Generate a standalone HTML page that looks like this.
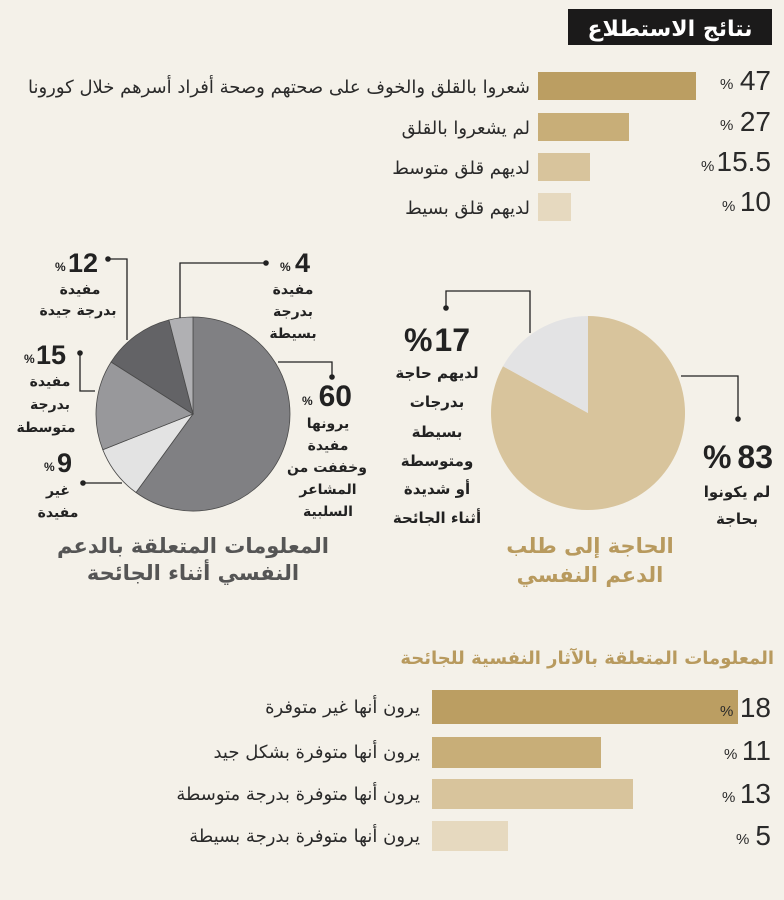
<!DOCTYPE html>
<html><head><meta charset="utf-8"><style>
html,body{margin:0;padding:0;background:#f4f1e9;}
svg{display:block;}
text{font-family:"DejaVu Sans","Liberation Sans",sans-serif;}
.n{font-family:"Liberation Sans",sans-serif;}
</style></head><body>
<svg width="784" height="900" viewBox="0 0 784 900" xmlns="http://www.w3.org/2000/svg">
<rect width="784" height="900" fill="#f4f1e9"/>
<rect x="568" y="9" width="204" height="36" fill="#1b1a1a"/>
<text x="670" y="36" fill="#fff" font-size="22" font-weight="bold" text-anchor="middle">نتائج الاستطلاع</text>
<g font-size="18" fill="#2a2a2a">
<rect x="538" y="72" width="158" height="28" fill="#bb9e62"/>
<rect x="538" y="113" width="91" height="28" fill="#c8ae78"/>
<rect x="538" y="153" width="52" height="28" fill="#d8c49c"/>
<rect x="538" y="193" width="33" height="28" fill="#e6d9bf"/>
<text x="530" y="93" text-anchor="end">شعروا بالقلق والخوف على صحتهم وصحة أفراد أسرهم خلال كورونا</text>
<text x="530" y="134" text-anchor="end">لم يشعروا بالقلق</text>
<text x="530" y="174" text-anchor="end">لديهم قلق متوسط</text>
<text x="530" y="214" text-anchor="end">لديهم قلق بسيط</text>
</g>
<g fill="#2a2a2a">
<text class="n" x="771" y="90" font-size="28" text-anchor="end">47</text><text class="n" x="720" y="89" font-size="15">%</text>
<text class="n" x="771" y="131" font-size="28" text-anchor="end">27</text><text class="n" x="720" y="130" font-size="15">%</text>
<text class="n" x="771" y="171" font-size="28" text-anchor="end">15.5</text><text class="n" x="701" y="171" font-size="15">%</text>
<text class="n" x="771" y="211" font-size="28" text-anchor="end">10</text><text class="n" x="722" y="211" font-size="15">%</text>
</g>
<g stroke="#4a4a4a" stroke-width="0.8">
<path d="M193 414 L193 317 A97 97 0 1 1 136 492.5 Z" fill="#808083"/>
<path d="M193 414 L136 492.5 A97 97 0 0 1 102.8 449.7 Z" fill="#e3e3e3"/>
<path d="M193 414 L102.8 449.7 A97 97 0 0 1 111.1 362 Z" fill="#98989b"/>
<path d="M193 414 L111.1 362 A97 97 0 0 1 168.9 320 Z" fill="#636366"/>
<path d="M193 414 L168.9 320 A97 97 0 0 1 193 317 Z" fill="#b0b0b3"/>
</g>
<g stroke="#222" stroke-width="1.3" fill="none">
<polyline points="266,263 180,263 180,318"/>
<polyline points="108,259 127,259 127,340"/>
<polyline points="80,353 80,391 95,391"/>
<polyline points="83,483 122,483"/>
<polyline points="278,362 332,362 332,377"/>
<polyline points="446,308 446,291 530,291 530,333"/>
<polyline points="681,376 738,376 738,419"/>
</g>
<g fill="#222">
<circle cx="266" cy="263" r="2.8"/><circle cx="108" cy="259" r="2.8"/><circle cx="80" cy="353" r="2.8"/>
<circle cx="83" cy="483" r="2.8"/><circle cx="332" cy="377" r="2.8"/><circle cx="446" cy="308" r="2.8"/><circle cx="738" cy="419" r="2.8"/>
</g>
<g fill="#222" font-weight="bold">
<text class="n" x="98" y="272" font-size="27" text-anchor="end">12</text><text class="n" x="55" y="271" font-size="12">%</text>
<text class="n" x="310" y="272" font-size="27" text-anchor="end">4</text><text class="n" x="280" y="271" font-size="12">%</text>
<text class="n" x="66" y="364" font-size="27" text-anchor="end">15</text><text class="n" x="24" y="363" font-size="12">%</text>
<text class="n" x="72" y="472" font-size="27" text-anchor="end">9</text><text class="n" x="44" y="471" font-size="12">%</text>
<text class="n" x="352" y="406" font-size="30" text-anchor="end">60</text><text class="n" x="302" y="405" font-size="12">%</text>
</g>
<g fill="#222" font-size="14" font-weight="bold" text-anchor="middle">
<text x="80" y="294">مفيدة</text><text x="78" y="315">بدرجة جيدة</text>
<text x="293" y="294">مفيدة</text><text x="293" y="316">بدرجة</text><text x="293" y="338">بسيطة</text>
<text x="50" y="386">مفيدة</text><text x="50" y="409">بدرجة</text><text x="46" y="432">متوسطة</text>
<text x="58" y="495">غير</text><text x="58" y="517">مفيدة</text>
<text x="328" y="428">يرونها</text><text x="328" y="450">مفيدة</text><text x="327" y="472">وخففت من</text><text x="328" y="494">المشاعر</text><text x="328" y="516">السلبية</text>
</g>
<g fill="#555" font-size="21" font-weight="bold" text-anchor="middle">
<text x="193" y="553">المعلومات المتعلقة بالدعم</text>
<text x="193" y="580">النفسي أثناء الجائحة</text>
</g>
<path d="M588 413 L588 316 A97 97 0 1 1 503 366.3 Z" fill="#d8c49c"/>
<path d="M588 413 L503 366.3 A97 97 0 0 1 588 316 Z" fill="#e3e3e4"/>
<g fill="#222" font-weight="bold">
<text class="n" x="470" y="351" font-size="32" text-anchor="end">17</text><text class="n" x="404" y="351" font-size="32">%</text>
<text class="n" x="773" y="468" font-size="32" text-anchor="end">83</text><text class="n" x="703" y="468" font-size="32">%</text>
</g>
<g fill="#222" font-size="15" font-weight="bold" text-anchor="middle">
<text x="437" y="378">لديهم حاجة</text><text x="437" y="407">بدرجات</text><text x="437" y="437">بسيطة</text>
<text x="437" y="466">ومتوسطة</text><text x="437" y="494">أو شديدة</text><text x="437" y="523">أثناء الجائحة</text>
<text x="737" y="497">لم يكونوا</text><text x="737" y="524">بحاجة</text>
</g>
<g fill="#b89a5e" font-size="21" font-weight="bold" text-anchor="middle">
<text x="590" y="553">الحاجة إلى طلب</text>
<text x="590" y="582">الدعم النفسي</text>
</g>
<text x="774" y="664" fill="#b89a5e" font-size="18" font-weight="bold" text-anchor="end">المعلومات المتعلقة بالآثار النفسية للجائحة</text>
<rect x="432" y="690" width="306" height="34" fill="#bb9e62"/>
<rect x="432" y="737" width="169" height="31" fill="#c8ae78"/>
<rect x="432" y="779" width="201" height="30" fill="#d8c49c"/>
<rect x="432" y="821" width="76" height="30" fill="#e6d9bf"/>
<g font-size="18" fill="#2a2a2a" text-anchor="end">
<text x="420" y="713">يرون أنها غير متوفرة</text>
<text x="420" y="758">يرون أنها متوفرة بشكل جيد</text>
<text x="420" y="800">يرون أنها متوفرة بدرجة متوسطة</text>
<text x="420" y="842">يرون أنها متوفرة بدرجة بسيطة</text>
</g>
<g fill="#2a2a2a">
<text class="n" x="771" y="717" font-size="28" text-anchor="end">18</text><text class="n" x="720" y="716" font-size="15">%</text>
<text class="n" x="771" y="760" font-size="28" text-anchor="end">11</text><text class="n" x="724" y="759" font-size="15">%</text>
<text class="n" x="771" y="803" font-size="28" text-anchor="end">13</text><text class="n" x="722" y="802" font-size="15">%</text>
<text class="n" x="771" y="845" font-size="28" text-anchor="end">5</text><text class="n" x="736" y="844" font-size="15">%</text>
</g>
</svg>
</body></html>
